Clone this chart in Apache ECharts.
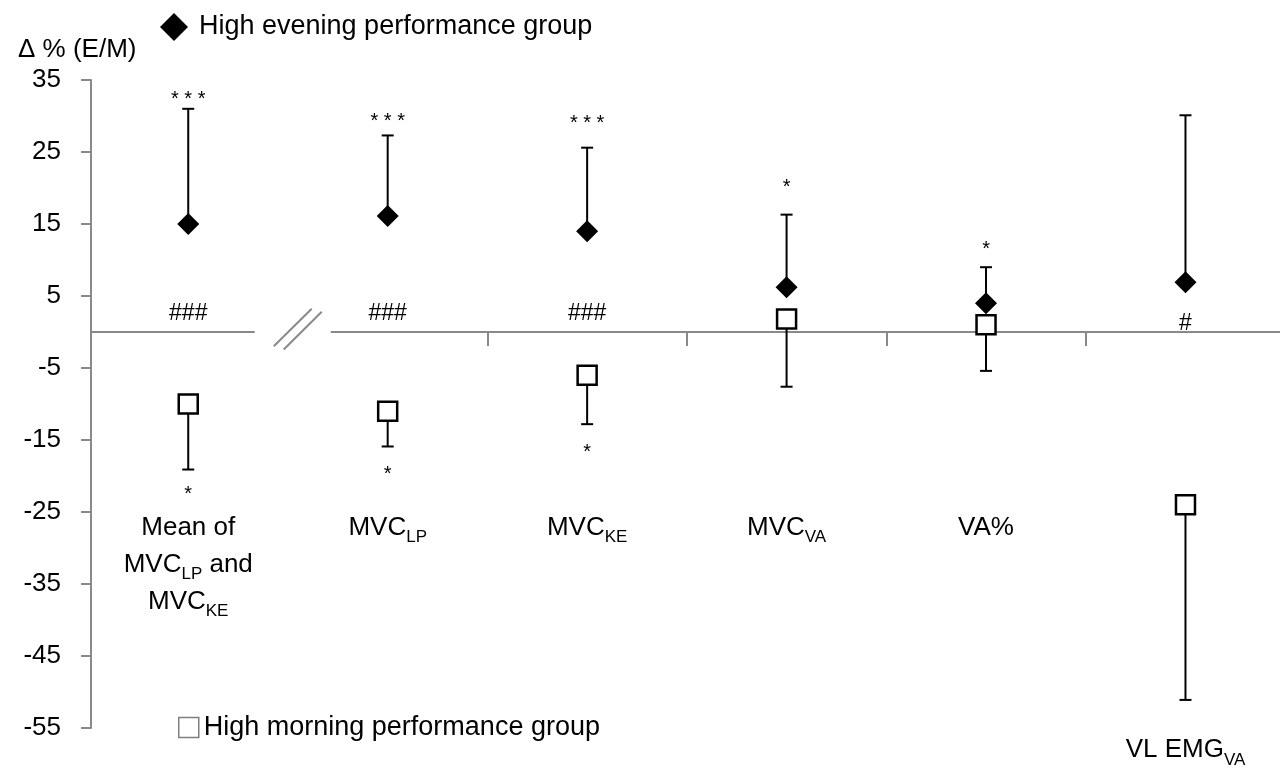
<!DOCTYPE html>
<html>
<head>
<meta charset="utf-8">
<script src="https://cdn.jsdelivr.net/npm/echarts@6/dist/echarts.min.js"></script>
<style>
html,body{margin:0;padding:0;background:#fff;}
#chart{width:1280px;height:772px;}
</style>
</head>
<body>
<div id="chart"></div>
<script>
// ---------- data ----------
const categories = ['Mean of MVC_LP and MVC_KE', 'MVC_LP', 'MVC_KE', 'MVC_VA', 'VA%', 'VL EMG_VA'];
const eveningName = 'High evening performance group';
const morningName = 'High morning performance group';
const eveningMean  = [15.0, 16.1, 14.0, 6.2, 4.0, 6.9];
const eveningUpper = [31.0, 27.3, 25.6, 16.3, 9.0, 30.1];
const morningMean  = [-10.0, -11.0, -6.0, 1.8, 1.0, -24.0];
const morningLower = [-19.1, -15.9, -12.8, -7.6, -5.4, -51.1];
const eveningSig   = ['***', '***', '***', '*', '*', ''];
const eveningSigAt = [32.3, 29.2, 28.9, 20.1, 11.5, null];
const morningSig   = ['*', '*', '*', '', '', ''];
const morningSigAt = [-22.6, -19.8, -16.8, null, null, null];
const groupSig     = ['###', '###', '###', '', '', '#'];
const groupSigAt   = [2.5, 2.5, 2.5, null, null, 1.2];
const yTicks = [-55, -45, -35, -25, -15, -5, 5, 15, 25, 35];

// ---------- layout ----------
const FONT = 'Liberation Sans, Arial, sans-serif';
const GRAY = '#898989';
const labelTop = [-24.6, -24.6, -24.6, -24.6, -24.6, -55.5];
const categoryRich = [
  '{m|Mean of}\n{m|MVC}{s|LP}{m| and}\n{m|MVC}{s|KE}',
  '{m|MVC}{s|LP}',
  '{m|MVC}{s|KE}',
  '{m|MVC}{s|VA}',
  '{m|VA%}',
  '{m|VL EMG}{s|VA}'
];
const breakAt = 0.524;

const chart = echarts.init(document.getElementById('chart'));

function errRender(params, api) {
  const x = api.value(0), y = api.value(1), e = api.value(2);
  const p0 = api.coord([x, y]);
  const p1 = api.coord([x, e]);
  return {
    type: 'group',
    children: [
      {type: 'line', shape: {x1: p0[0], y1: p0[1], x2: p1[0], y2: p1[1]}, style: {stroke: '#000', lineWidth: 2}},
      {type: 'line', shape: {x1: p1[0] - 6, y1: p1[1], x2: p1[0] + 6, y2: p1[1]}, style: {stroke: '#000', lineWidth: 2}}
    ]
  };
}

function textSeries(texts, at, size, spaced) {
  return {
    type: 'scatter', symbolSize: 0, silent: true, clip: false, z: 5,
    itemStyle: {opacity: 1},
    data: texts.map((t, i) => ({value: [i, at[i]], t: t})).filter(d => d.t !== '' && d.value[1] !== null),
    label: {show: true, position: 'inside', color: '#000', fontFamily: FONT, fontSize: size,
      formatter: p => spaced ? p.data.t.split('').join(' ') : p.data.t}
  };
}

const option = {
  animation: false,
  backgroundColor: '#fff',
  title: {text: 'Δ % (E/M)', left: 13, top: 32,
    textStyle: {fontFamily: FONT, fontSize: 26, fontWeight: 'normal', color: '#000'}},
  legend: [
    {data: [{name: eveningName, icon: 'diamond'}], left: 155, top: 8, itemWidth: 28, itemHeight: 28,
      selectedMode: false,
      textStyle: {fontFamily: FONT, fontSize: 27, color: '#000', padding: [4, 0, 0, 6]}},
    {data: [{name: morningName, icon: 'rect', itemStyle: {color: '#fff', borderColor: '#7f7f7f', borderWidth: 1.5}}],
      left: 173, top: 709, itemWidth: 20, itemHeight: 20, selectedMode: false,
      textStyle: {fontFamily: FONT, fontSize: 27, color: '#000', padding: [3, 0, 0, 0]}}
  ],
  grid: {left: 91, right: 0, top: 80, bottom: 44},
  xAxis: {
    type: 'value', min: -0.4875, max: 5.4739,
    splitLine: {show: false},
    axisLine: {show: true, onZero: true, lineStyle: {color: GRAY, width: 2}},
    axisTick: {show: true, length: 14, inside: false, customValues: [1.5, 2.5, 3.5, 4.5], lineStyle: {color: GRAY, width: 2}},
    axisLabel: {show: false}
  },
  yAxis: {
    type: 'value', min: -55, max: 35, interval: 10,
    splitLine: {show: false},
    axisLine: {show: true, onZero: false, lineStyle: {color: GRAY, width: 2}},
    axisTick: {show: true, length: 10, lineStyle: {color: GRAY, width: 2}},
    axisLabel: {fontFamily: FONT, fontSize: 26, color: '#000', margin: 30}
  },
  series: [
    {type: 'custom', name: 'eveningErr', renderItem: errRender, z: 2, silent: true,
      data: eveningMean.map((v, i) => [i, v, eveningUpper[i]])},
    {type: 'custom', name: 'morningErr', renderItem: errRender, z: 2, silent: true,
      data: morningMean.map((v, i) => [i, v, morningLower[i]])},
    {type: 'scatter', name: eveningName, symbol: 'diamond', symbolSize: 22, z: 4,
      itemStyle: {color: '#000', opacity: 1},
      data: eveningMean.map((v, i) => [i, v])},
    {type: 'scatter', name: morningName, symbol: 'rect', symbolSize: 19, z: 4,
      itemStyle: {color: '#fff', borderColor: '#000', borderWidth: 2.5, opacity: 1},
      data: morningMean.map((v, i) => [i, v])},
    textSeries(eveningSig, eveningSigAt, 20, true),
    textSeries(morningSig, morningSigAt, 20, true),
    textSeries(groupSig, groupSigAt, 23, false),
    {type: 'scatter', symbolSize: 0, silent: true, clip: false, z: 5,
      itemStyle: {opacity: 1},
      data: categories.map((c, i) => ({value: [i, labelTop[i]], name: c, t: categoryRich[i]})),
      label: {show: true, position: 'bottom', distance: 0, color: '#000', fontFamily: FONT, fontSize: 26,
        lineHeight: 37, align: 'center',
        formatter: p => p.data.t,
        rich: {
          m: {fontFamily: FONT, fontSize: 26, color: '#000', lineHeight: 37},
          s: {fontFamily: FONT, fontSize: 17, color: '#000', lineHeight: 20, verticalAlign: 'bottom'}
        }}}
  ]
};

chart.setOption(option);

// axis break decoration on the zero line
const c = chart.convertToPixel({xAxisIndex: 0, yAxisIndex: 0}, [breakAt, 0]);
chart.setOption({
  graphic: [
    {type: 'rect', shape: {x: c[0] - 38, y: c[1] - 4, width: 76, height: 8}, style: {fill: '#fff'}, z: 10},
    {type: 'line', shape: {x1: c[0] - 19, y1: c[1] + 14.2, x2: c[0] + 19, y2: c[1] - 23.2}, style: {stroke: GRAY, lineWidth: 2}, z: 11},
    {type: 'line', shape: {x1: c[0] - 9, y1: c[1] + 17.5, x2: c[0] + 29, y2: c[1] - 20.2}, style: {stroke: GRAY, lineWidth: 2}, z: 11}
  ]
});
</script>
</body>
</html>
